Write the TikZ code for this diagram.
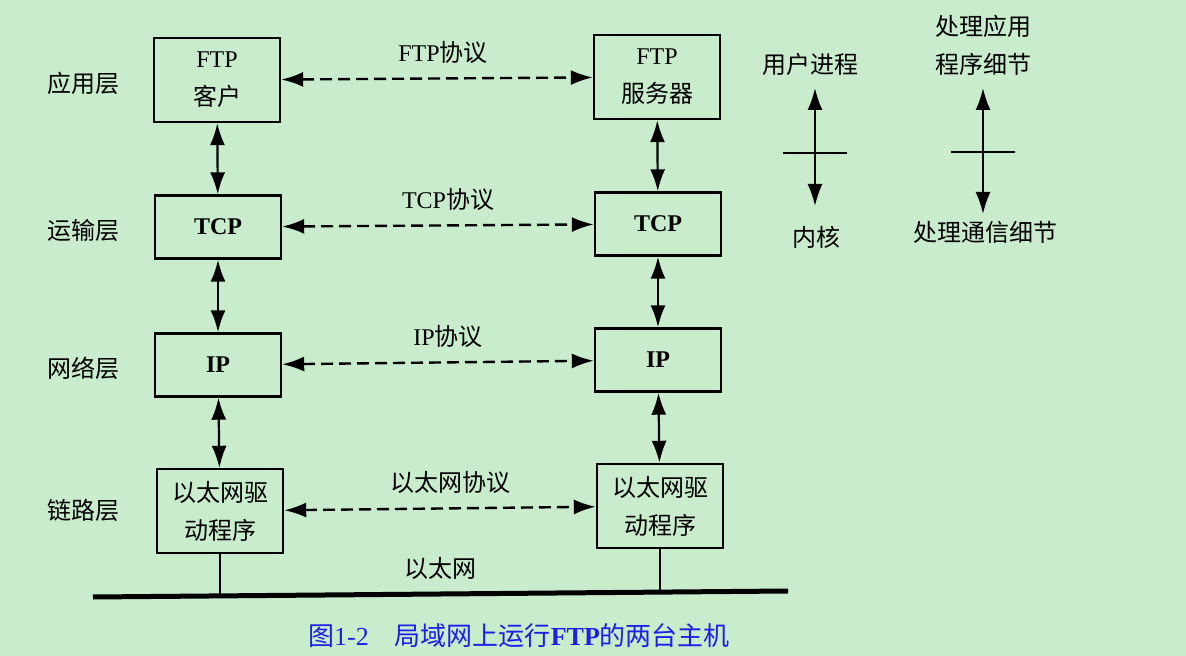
\documentclass[tikz,border=0pt]{standalone}
\usepackage{fontspec}
\setmainfont{Liberation Serif}
\newfontfamily\cjk{Noto Sans CJK SC}
\usepackage{tikz}
\usetikzlibrary{arrows.meta}
\tikzset{>={Latex[width=7.5pt,length=11pt]}}
\definecolor{bggreen}{RGB}{200,236,204}
\definecolor{capblue}{RGB}{30,30,235}
\newcommand\zh[1]{{\cjk #1}}
\tikzset{
  hostbox/.style={draw, line width=1.2pt, minimum width=63pt, align=center, inner sep=0pt},
  tallbox/.style={hostbox, minimum height=42pt},
  flatbox/.style={hostbox, minimum height=31.5pt},
  peerarrow/.style={<->, dash pattern=on 6pt off 3pt, line width=1.2pt},
  stackarrow/.style={<->, line width=1.1pt},
}

\begin{document}
\begin{tikzpicture}[x=0.5pt,y=-0.5pt]

  \fontsize{12}{19}\selectfont

  \fill[bggreen] (0,0) rectangle (1186,656);
  \useasboundingbox (0,0) rectangle (1186,656);

  %% layer names
  \node (lapp) at (83,83)  {\zh{应用层}};
  \node (ltrn) at (83,230) {\zh{运输层}};
  \node (lnet) at (83,368) {\zh{网络层}};
  \node (llnk) at (83,510) {\zh{链路层}};

  %% client host
  \node[tallbox] (cli)  at (217,80)  {FTP\\\zh{客户}};
  \node[flatbox] (ctcp) at (218,227) {\textbf{TCP}};
  \node[flatbox] (cip)  at (218,365) {\textbf{IP}};
  \node[tallbox] (cdrv) at (220,511) {\zh{以太网驱}\\\zh{动程序}};

  %% server host
  \node[tallbox] (srv)  at (657,77)  {FTP\\\zh{服务器}};
  \node[flatbox] (stcp) at (658,224) {\textbf{TCP}};
  \node[flatbox] (sip)  at (658,360) {\textbf{IP}};
  \node[tallbox] (sdrv) at (660,506) {\zh{以太网驱}\\\zh{动程序}};

  \draw[stackarrow] (cli) -- (ctcp);
  \draw[stackarrow] (ctcp) -- (cip);
  \draw[stackarrow] (cip) -- (cdrv);
  \draw[stackarrow] (srv) -- (stcp);
  \draw[stackarrow] (stcp) -- (sip);
  \draw[stackarrow] (sip) -- (sdrv);

  %% peer protocols
  \draw[peerarrow] (cli) -- node[above=3pt, xshift=3pt]{FTP\zh{协议}} (srv);
  \draw[peerarrow] (ctcp) -- node[above=3pt, xshift=5pt]{TCP\zh{协议}} (stcp);
  \draw[peerarrow] (cip) -- node[above=3pt, xshift=5pt]{IP\zh{协议}} (sip);
  \draw[peerarrow] (cdrv) -- node[above=3pt, xshift=5pt]{\zh{以太网协议}} (sdrv);

  %% ethernet
  \coordinate (busw) at (93,597);
  \coordinate (buse) at (788,591);
  \draw[line width=2.5pt] (busw) -- (buse);
  \draw[line width=0.9pt] (cdrv) -- (cdrv |- busw);
  \draw[line width=0.9pt] (sdrv) -- (sdrv |- buse);
  \node (eth) at (440,568) {\zh{以太网}};

  %% user / kernel
  \node (user) at (810,64)  {\zh{用户进程}};
  \node (kern) at (816,237) {\zh{内核}};
  \coordinate (utop) at (815,88);
  \coordinate (ubot) at (815,206);
  \coordinate (umid) at (815,153);
  \draw[stackarrow] (utop) -- (ubot);
  \draw[line width=1.1pt] ([xshift=-16pt]umid) -- ([xshift=16pt]umid);

  \node[align=center] (app) at (983,45) {\zh{处理应用}\\\zh{程序细节}};
  \node (comm) at (985,232) {\zh{处理通信细节}};
  \coordinate (atop) at (983,88);
  \coordinate (abot) at (983,214);
  \coordinate (amid) at (983,152);
  \draw[stackarrow] (atop) -- (abot);
  \draw[line width=1.1pt] ([xshift=-16pt]amid) -- ([xshift=16pt]amid);

  %% caption
  \node[text=capblue, font=\fontsize{13}{16}\selectfont] (cap) at (519,636)
    {\zh{图}1-2\quad\zh{局域网上运行}\textbf{FTP}\zh{的两台主机}};

\end{tikzpicture}
\end{document}
